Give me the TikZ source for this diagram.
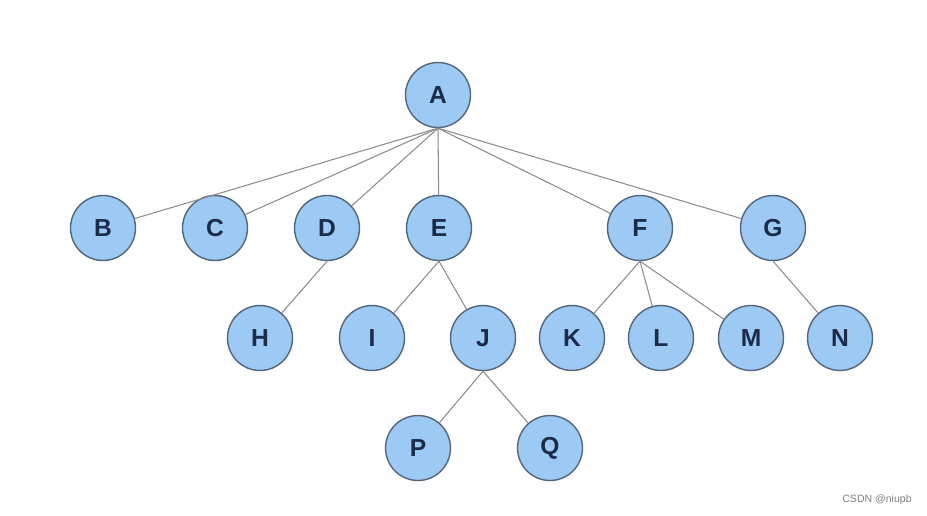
\documentclass[tikz,border=0pt]{standalone}
\usepackage{fontspec}
\setmainfont{Liberation Sans}
\definecolor{nodefill}{HTML}{9DC9F5}
\definecolor{nodeline}{HTML}{55657A}
\definecolor{nodetext}{HTML}{1B2B48}
\definecolor{edgegray}{HTML}{8C8C8C}
\begin{document}
\begin{tikzpicture}[x=0.02cm,y=-0.02cm,
  vertex/.style={circle,draw=nodeline,line width=0.8pt,fill=nodefill,minimum size=1.3cm,inner sep=0pt,text=nodetext,font=\fontsize{14}{14}\selectfont\bfseries},
  edge/.style={draw=edgegray,line width=0.6pt}]
\useasboundingbox (0,0) rectangle (927,515);
\node[vertex] (A) at (438,95) {A};

\node[vertex] (B) at (103,228) {B};
\node[vertex] (C) at (215,228) {C};
\node[vertex] (D) at (327,228) {D};
\node[vertex] (E) at (439,228) {E};
\node[vertex] (F) at (640,228) {F};
\node[vertex] (G) at (773,228) {G};

\node[vertex] (H) at (260,338) {H};
\node[vertex] (I) at (372,338) {I};
\node[vertex] (J) at (483,338) {J};
\node[vertex] (K) at (572,338) {K};
\node[vertex] (L) at (661,338) {L};
\node[vertex] (M) at (751,338) {M};
\node[vertex] (N) at (840,338) {N};

\node[vertex] (P) at (418,448) {P};
\node[vertex] (Q) at (550,448) {Q};

\foreach \c in {B,C,D,E,F,G} \draw[edge] (A.south) -- (\c);
\draw[edge] (D.south) -- (H);
\foreach \c in {I,J} \draw[edge] (E.south) -- (\c);
\foreach \c in {K,L,M} \draw[edge] (F.south) -- (\c);
\draw[edge] (G.south) -- (N);
\foreach \c in {P,Q} \draw[edge] (J.south) -- (\c);

\node[text=gray,font=\fontsize{6}{6}\selectfont] (mark) at (877,500) {CSDN @niupb};
\end{tikzpicture}
\end{document}
